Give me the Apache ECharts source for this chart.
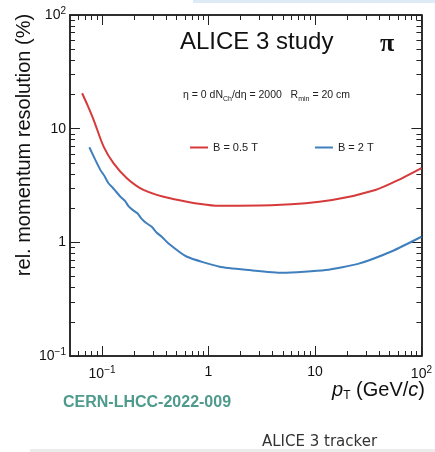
<!DOCTYPE html>
<html>
<head>
<meta charset="utf-8">
<script src="https://cdn.jsdelivr.net/npm/echarts@6/dist/echarts.min.js"></script>
<style>
html,body{margin:0;padding:0;background:#fff;}
#chart{width:435px;height:452px;}
</style>
</head>
<body>
<div id="chart"></div>
<script>
// ---- data ----
const ptRed  = [0.065, 0.073, 0.0835, 0.1035, 0.128, 0.171, 0.245, 0.435, 1.27, 4.29, 14.5, 36.9, 65.5, 100];
const resRed = [20.5, 16.1, 11.9, 6.95, 4.97, 3.66, 2.89, 2.44, 2.10, 2.13, 2.36, 2.89, 3.66, 4.49];
const ptBlue  = [0.076, 0.0865, 0.0964, 0.105, 0.115, 0.125, 0.135, 0.150, 0.165, 0.177, 0.195, 0.215, 0.237, 0.26, 0.293, 0.325, 0.364, 0.419, 0.62, 1.27, 2.42, 4.95, 12.6, 25.8, 52.8, 100];
const resBlue = [6.86, 5.31, 4.34, 3.85, 3.31, 3.05, 2.80, 2.50, 2.30, 2.08, 1.92, 1.80, 1.60, 1.48, 1.37, 1.22, 1.12, 0.98, 0.75, 0.61, 0.57, 0.54, 0.57, 0.65, 0.835, 1.12];
const seriesNames = ['B = 0.5 T', 'B = 2 T'];
const xMajor = [0.1, 1, 10, 100];
const xMinor = [0.06, 0.07, 0.08, 0.09, 0.2, 0.3, 0.4, 0.5, 0.6, 0.7, 0.8, 0.9, 2, 3, 4, 5, 6, 7, 8, 9, 20, 30, 40, 50, 60, 70, 80, 90];
const yMajor = [0.1, 1, 10, 100];
const yMinor = [0.2, 0.3, 0.4, 0.5, 0.6, 0.7, 0.8, 0.9, 2, 3, 4, 5, 6, 7, 8, 9, 20, 30, 40, 50, 60, 70, 80, 90];
const tickLabels = {'-1': '10{s|−1}', '0': '1', '1': '10', '2': '10{s|2}'};

const chart = echarts.init(document.getElementById('chart'), null, {renderer: 'canvas'});
const axisCol = '#222';
const labelFont = 'Liberation Sans';
function fmt(v) { return tickLabels[String(Math.round(Math.log10(v)))] || ''; }
const richSup = { s: { fontSize: 10, fontFamily: labelFont, color: '#111', padding: [0, 0, 8, 0] } };

function xAx(pos, major, withLabel) {
  return {
    type: 'log', logBase: 10, min: 0.05, max: 100, position: pos, gridIndex: 0,
    axisLine: { show: true, onZero: false, lineStyle: { color: axisCol, width: 1.5 } },
    axisTick: { show: true, inside: true, length: major ? 10 : 5, customValues: major ? xMajor : xMinor, lineStyle: { color: axisCol, width: 1 } },
    axisLabel: withLabel ? { show: true, customValues: xMajor, formatter: fmt, margin: 9, fontSize: 14, fontFamily: labelFont, color: '#111', rich: richSup } : { show: false },
    splitLine: { show: false }, minorTick: { show: false }
  };
}
function yAx(pos, major, withLabel) {
  return {
    type: 'log', logBase: 10, min: 0.1, max: 100, position: pos, gridIndex: 0,
    axisLine: { show: true, onZero: false, lineStyle: { color: axisCol, width: 1.5 } },
    axisTick: { show: true, inside: true, length: major ? 10 : 5, customValues: major ? yMajor : yMinor, lineStyle: { color: axisCol, width: 1 } },
    axisLabel: withLabel ? { show: true, customValues: yMajor, formatter: fmt, margin: 4, fontSize: 14, fontFamily: labelFont, color: '#111', rich: richSup } : { show: false },
    splitLine: { show: false }, minorTick: { show: false }
  };
}

const option = {
  animation: false,
  backgroundColor: '#fff',
  grid: { left: 70, right: 12, top: 15, bottom: 96, containLabel: false },
  xAxis: [xAx('bottom', true, true), xAx('bottom', false, false), xAx('top', true, false), xAx('top', false, false)],
  yAxis: [yAx('left', true, true), yAx('left', false, false), yAx('right', true, false), yAx('right', false, false)],
  legend: {
    left: 185, top: 137, itemWidth: 18, itemHeight: 2, itemGap: 57, icon: 'rect',
    textStyle: { fontSize: 11, fontFamily: labelFont, color: '#222' },
    data: seriesNames
  },
  series: [
    { name: seriesNames[0], type: 'line', xAxisIndex: 0, yAxisIndex: 0, showSymbol: false, smooth: 0.3,
      lineStyle: { color: '#d63a3a', width: 2 }, itemStyle: { color: '#d63a3a' },
      data: ptRed.map((x, i) => [x, resRed[i]]) },
    { name: seriesNames[1], type: 'line', xAxisIndex: 0, yAxisIndex: 0, showSymbol: false, smooth: 0.2,
      lineStyle: { color: '#3f7fbd', width: 2 }, itemStyle: { color: '#3f7fbd' },
      data: ptBlue.map((x, i) => [x, resBlue[i]]) }
  ],
  graphic: [
    { type: 'rect', left: 193, top: 0, shape: { width: 242, height: 3 }, style: { fill: '#dfeaf7' }, silent: true },
    { type: 'rect', left: 30, top: 449, shape: { width: 405, height: 3 }, style: { fill: '#ececec' }, silent: true },
    { type: 'text', left: 180, top: 30, style: { text: 'ALICE 3 study', fontSize: 24, fontFamily: labelFont, fill: '#111' } },
    { type: 'text', left: 380, top: 31, style: { text: 'π', fontSize: 26, fontFamily: 'Liberation Serif', fontWeight: 'bold', fill: '#111' } },
    { type: 'text', left: 183, top: 90, style: {
        text: 'η = 0 dN{sub|Ch}/dη = 2000   R{sub|min} = 20 cm',
        fontSize: 10.5, fontFamily: labelFont, fill: '#222',
        rich: { sub: { fontSize: 7, fontFamily: labelFont, fill: '#222', padding: [8, 0, 0, 0] } } } },
    { type: 'text', x: 24, y: 145, rotation: Math.PI / 2, style: {
        text: 'rel. momentum resolution (%)', fontSize: 20, fontFamily: labelFont, fill: '#111',
        align: 'center', verticalAlign: 'middle' } },
    { type: 'text', right: 10, top: 380, style: {
        text: '{p|p}{sub|T} (GeV/{p|c})', fontSize: 20, fontFamily: labelFont, fill: '#111',
        rich: { p: { fontSize: 20, fontStyle: 'italic', fontFamily: labelFont, fill: '#111' },
                sub: { fontSize: 12, fontFamily: labelFont, fill: '#111', padding: [12, 0, 0, 0] } } } },
    { type: 'text', left: 63, top: 395, style: { text: 'CERN-LHCC-2022-009', fontSize: 16, fontWeight: 'bold', fontFamily: labelFont, fill: '#4e9a8c' } },
    { type: 'text', left: 262, top: 435, style: { text: 'ALICE 3 tracker', fontSize: 15, fontFamily: 'DejaVu Sans', fill: '#333' } }
  ]
};
chart.setOption(option);
</script>
</body>
</html>
